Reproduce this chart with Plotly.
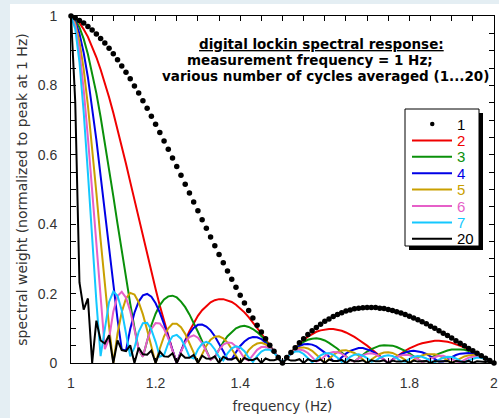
import plotly.graph_objects as go

# frequency grid (Hz)
freq = [1.00, 1.01, 1.02, 1.03, 1.04, 1.05, 1.06, 1.07, 1.08, 1.09,
        1.10, 1.11, 1.12, 1.13, 1.14, 1.15, 1.16, 1.17, 1.18, 1.19,
        1.20, 1.21, 1.22, 1.23, 1.24, 1.25, 1.26, 1.27, 1.28, 1.29,
        1.30, 1.31, 1.32, 1.33, 1.34, 1.35, 1.36, 1.37, 1.38, 1.39,
        1.40, 1.41, 1.42, 1.43, 1.44, 1.45, 1.46, 1.47, 1.48, 1.49,
        1.50, 1.51, 1.52, 1.53, 1.54, 1.55, 1.56, 1.57, 1.58, 1.59,
        1.60, 1.61, 1.62, 1.63, 1.64, 1.65, 1.66, 1.67, 1.68, 1.69,
        1.70, 1.71, 1.72, 1.73, 1.74, 1.75, 1.76, 1.77, 1.78, 1.79,
        1.80, 1.81, 1.82, 1.83, 1.84, 1.85, 1.86, 1.87, 1.88, 1.89,
        1.90, 1.91, 1.92, 1.93, 1.94, 1.95, 1.96, 1.97, 1.98, 1.99,
        2.00]

resp_1 = [1.000, 0.995, 0.987, 0.980, 0.970, 0.960, 0.948, 0.935, 0.922, 0.907,
          0.891, 0.874, 0.856, 0.838, 0.819, 0.798, 0.778, 0.756, 0.734, 0.711,
          0.688, 0.664, 0.640, 0.616, 0.591, 0.566, 0.541, 0.515, 0.490, 0.464,
          0.439, 0.413, 0.388, 0.363, 0.338, 0.313, 0.289, 0.265, 0.241, 0.218,
          0.195, 0.173, 0.151, 0.130, 0.109, 0.089, 0.070, 0.051, 0.034, 0.016,
          0.000, 0.016, 0.030, 0.044, 0.058, 0.070, 0.082, 0.093, 0.102, 0.112,
          0.120, 0.127, 0.134, 0.140, 0.145, 0.150, 0.153, 0.156, 0.158, 0.159,
          0.160, 0.160, 0.160, 0.158, 0.157, 0.154, 0.151, 0.148, 0.144, 0.140,
          0.135, 0.130, 0.125, 0.119, 0.113, 0.106, 0.100, 0.093, 0.086, 0.079,
          0.072, 0.064, 0.057, 0.050, 0.042, 0.035, 0.028, 0.021, 0.014, 0.007,
          0.000]

resp_2 = [1.000, 0.992, 0.980, 0.962, 0.940, 0.913, 0.881, 0.846, 0.808, 0.766,
          0.721, 0.674, 0.624, 0.574, 0.522, 0.469, 0.417, 0.364, 0.313, 0.262,
          0.213, 0.165, 0.120, 0.077, 0.037, 0.000, 0.034, 0.065, 0.092, 0.115,
          0.136, 0.152, 0.165, 0.175, 0.181, 0.184, 0.184, 0.181, 0.176, 0.168,
          0.158, 0.146, 0.132, 0.117, 0.101, 0.085, 0.068, 0.050, 0.033, 0.016,
          0.000, 0.016, 0.030, 0.044, 0.056, 0.067, 0.076, 0.084, 0.090, 0.094,
          0.097, 0.098, 0.098, 0.096, 0.093, 0.088, 0.082, 0.075, 0.067, 0.059,
          0.050, 0.040, 0.030, 0.020, 0.010, 0.000, 0.010, 0.019, 0.027, 0.035,
          0.042, 0.048, 0.053, 0.057, 0.060, 0.062, 0.064, 0.064, 0.063, 0.061,
          0.058, 0.054, 0.050, 0.045, 0.039, 0.033, 0.027, 0.020, 0.014, 0.007,
          0.000]

resp_3 = [1.000, 0.989, 0.967, 0.934, 0.890, 0.837, 0.777, 0.709, 0.636, 0.560,
          0.481, 0.401, 0.321, 0.244, 0.171, 0.102, 0.038, 0.018, 0.067, 0.109,
          0.142, 0.167, 0.183, 0.192, 0.194, 0.189, 0.177, 0.161, 0.140, 0.116,
          0.090, 0.063, 0.036, 0.009, 0.017, 0.040, 0.060, 0.077, 0.090, 0.100,
          0.105, 0.107, 0.104, 0.098, 0.089, 0.078, 0.064, 0.049, 0.033, 0.016,
          0.000, 0.016, 0.030, 0.042, 0.053, 0.061, 0.067, 0.070, 0.071, 0.069,
          0.065, 0.058, 0.050, 0.041, 0.030, 0.019, 0.008, 0.004, 0.014, 0.024,
          0.033, 0.040, 0.046, 0.050, 0.051, 0.051, 0.050, 0.046, 0.041, 0.035,
          0.028, 0.020, 0.011, 0.003, 0.006, 0.014, 0.021, 0.027, 0.032, 0.036,
          0.039, 0.040, 0.039, 0.038, 0.035, 0.031, 0.026, 0.020, 0.013, 0.007,
          0.000]

resp_4 = [1.000, 0.985, 0.949, 0.894, 0.823, 0.738, 0.643, 0.539, 0.433, 0.326,
          0.223, 0.126, 0.039, 0.036, 0.098, 0.145, 0.177, 0.195, 0.199, 0.191,
          0.172, 0.145, 0.112, 0.075, 0.037, 0.000, 0.034, 0.063, 0.085, 0.101,
          0.110, 0.111, 0.105, 0.094, 0.077, 0.057, 0.034, 0.011, 0.011, 0.031,
          0.049, 0.062, 0.071, 0.075, 0.074, 0.069, 0.059, 0.047, 0.032, 0.016,
          0.000, 0.015, 0.029, 0.041, 0.049, 0.054, 0.055, 0.053, 0.048, 0.040,
          0.030, 0.018, 0.006, 0.006, 0.017, 0.027, 0.035, 0.040, 0.043, 0.043,
          0.040, 0.035, 0.028, 0.019, 0.010, 0.000, 0.009, 0.018, 0.025, 0.030,
          0.034, 0.035, 0.034, 0.031, 0.026, 0.019, 0.012, 0.004, 0.004, 0.011,
          0.018, 0.023, 0.027, 0.029, 0.029, 0.027, 0.024, 0.019, 0.013, 0.007,
          0.000]

resp_5 = [1.000, 0.979, 0.926, 0.846, 0.742, 0.621, 0.490, 0.355, 0.225, 0.105,
          0.000, 0.085, 0.147, 0.186, 0.202, 0.197, 0.175, 0.140, 0.095, 0.047,
          0.000, 0.042, 0.077, 0.100, 0.113, 0.113, 0.103, 0.084, 0.059, 0.030,
          0.000, 0.027, 0.050, 0.067, 0.076, 0.077, 0.071, 0.059, 0.041, 0.021,
          0.000, 0.020, 0.037, 0.049, 0.056, 0.058, 0.054, 0.044, 0.031, 0.016,
          0.000, 0.015, 0.029, 0.038, 0.044, 0.045, 0.042, 0.035, 0.025, 0.013,
          0.000, 0.012, 0.023, 0.031, 0.036, 0.037, 0.034, 0.029, 0.021, 0.011,
          0.000, 0.010, 0.019, 0.026, 0.030, 0.031, 0.029, 0.024, 0.017, 0.009,
          0.000, 0.009, 0.016, 0.022, 0.025, 0.026, 0.025, 0.021, 0.015, 0.008,
          0.000, 0.007, 0.014, 0.019, 0.022, 0.023, 0.021, 0.018, 0.013, 0.007,
          0.000]

resp_6 = [1.000, 0.972, 0.899, 0.788, 0.649, 0.492, 0.331, 0.176, 0.040, 0.070,
          0.148, 0.193, 0.205, 0.188, 0.150, 0.097, 0.038, 0.018, 0.065, 0.098,
          0.115, 0.114, 0.098, 0.071, 0.036, 0.000, 0.033, 0.059, 0.075, 0.080,
          0.073, 0.057, 0.034, 0.009, 0.017, 0.038, 0.053, 0.059, 0.058, 0.048,
          0.032, 0.013, 0.007, 0.024, 0.038, 0.046, 0.047, 0.041, 0.031, 0.016,
          0.000, 0.015, 0.028, 0.036, 0.039, 0.036, 0.029, 0.017, 0.004, 0.009,
          0.020, 0.028, 0.032, 0.031, 0.027, 0.018, 0.008, 0.004, 0.014, 0.022,
          0.027, 0.028, 0.025, 0.018, 0.010, 0.000, 0.009, 0.017, 0.022, 0.024,
          0.023, 0.018, 0.011, 0.003, 0.006, 0.013, 0.018, 0.021, 0.021, 0.017,
          0.012, 0.005, 0.002, 0.009, 0.015, 0.018, 0.019, 0.017, 0.012, 0.007,
          0.000]

resp_7 = [1.000, 0.963, 0.867, 0.723, 0.547, 0.359, 0.177, 0.020, 0.101, 0.176,
          0.206, 0.194, 0.151, 0.088, 0.019, 0.044, 0.090, 0.115, 0.116, 0.096,
          0.061, 0.018, 0.023, 0.057, 0.077, 0.081, 0.070, 0.047, 0.018, 0.013,
          0.039, 0.056, 0.061, 0.055, 0.039, 0.017, 0.007, 0.028, 0.042, 0.048,
          0.045, 0.034, 0.016, 0.003, 0.020, 0.033, 0.039, 0.038, 0.029, 0.016,
          0.000, 0.015, 0.027, 0.033, 0.033, 0.026, 0.015, 0.002, 0.011, 0.022,
          0.028, 0.028, 0.024, 0.015, 0.003, 0.008, 0.018, 0.024, 0.025, 0.021,
          0.014, 0.004, 0.006, 0.015, 0.020, 0.022, 0.020, 0.014, 0.005, 0.004,
          0.012, 0.018, 0.020, 0.018, 0.013, 0.006, 0.002, 0.010, 0.015, 0.018,
          0.017, 0.013, 0.006, 0.001, 0.008, 0.013, 0.016, 0.015, 0.012, 0.007,
          0.000]

resp_20 = [1.000, 0.753, 0.232, 0.154, 0.186, 0.000, 0.122, 0.065, 0.056, 0.080,
           0.000, 0.065, 0.037, 0.034, 0.051, 0.000, 0.044, 0.025, 0.024, 0.036,
           0.000, 0.033, 0.019, 0.018, 0.028, 0.000, 0.026, 0.015, 0.015, 0.023,
           0.000, 0.021, 0.013, 0.012, 0.019, 0.000, 0.018, 0.011, 0.010, 0.016,
           0.000, 0.015, 0.009, 0.009, 0.014, 0.000, 0.013, 0.008, 0.008, 0.012,
           0.000, 0.012, 0.007, 0.007, 0.011, 0.000, 0.011, 0.006, 0.006, 0.010,
           0.000, 0.010, 0.006, 0.006, 0.009, 0.000, 0.009, 0.005, 0.005, 0.008,
           0.000, 0.008, 0.005, 0.005, 0.008, 0.000, 0.007, 0.004, 0.004, 0.007,
           0.000, 0.007, 0.004, 0.004, 0.006, 0.000, 0.006, 0.004, 0.004, 0.006,
           0.000, 0.006, 0.004, 0.003, 0.006, 0.000, 0.005, 0.003, 0.003, 0.005,
           0.000]

line_series = [
    ("2", resp_2, "#f00000"),
    ("3", resp_3, "#0a900a"),
    ("4", resp_4, "#0000e6"),
    ("5", resp_5, "#c9a000"),
    ("6", resp_6, "#e65fc8"),
    ("7", resp_7, "#14c8ff"),
    ("20", resp_20, "#000000"),
]

SANS = "Liberation Sans, Arial, sans-serif"
WIDE = "DejaVu Sans, Verdana, sans-serif"

fig = go.Figure()
for name, vals, col in line_series:
    fig.add_trace(go.Scatter(
        x=freq, y=vals, mode="lines", name=name,
        line=dict(color=col, width=2), showlegend=False,
    ))
fig.add_trace(go.Scatter(
    x=freq, y=resp_1, mode="markers", name="1",
    marker=dict(size=5.5, color="black"),
    cliponaxis=False, showlegend=False,
))

# pixel -> paper conversion for decorations
L, T, W, H = 71, 16, 423, 347


def px(xp):
    return (xp - L) / W


def py(yp):
    return (T + H - yp) / H


shapes = [
    # white page area (light blue frame visible at top/left)
    dict(type="rect", xref="paper", yref="paper", x0=px(10), x1=px(520),
         y0=py(4), y1=py(440), fillcolor="white", line=dict(width=0), layer="below"),
]
annotations = []

# legend box with drop shadow
LX0, LX1, LY0, LY1 = 405, 479, 109, 246
shapes.append(dict(type="rect", xref="paper", yref="paper",
                   x0=px(LX0 + 4), x1=px(LX1 + 4), y0=py(LY0 + 4), y1=py(LY1 + 4),
                   fillcolor="black", line=dict(width=0), layer="above"))
shapes.append(dict(type="rect", xref="paper", yref="paper",
                   x0=px(LX0), x1=px(LX1), y0=py(LY0), y1=py(LY1),
                   fillcolor="white", line=dict(color="black", width=1), layer="above"))
legend_items = [("1", "#000000", "dot")] + [(n, c, "line") for n, _, c in line_series]
for i, (name, col, kind) in enumerate(legend_items):
    yc = 124 + 16.4 * i
    if kind == "dot":
        shapes.append(dict(type="circle", xref="paper", yref="paper",
                           x0=px(430), x1=px(434.5), y0=py(yc - 2.2), y1=py(yc + 2.2),
                           fillcolor="black", line=dict(width=0), layer="above"))
    else:
        shapes.append(dict(type="line", xref="paper", yref="paper",
                           x0=px(412), x1=px(452), y0=py(yc), y1=py(yc),
                           line=dict(color=col, width=2), layer="above"))
    annotations.append(dict(text=name, xref="paper", yref="paper",
                            x=px(455), y=py(yc), xanchor="left", yanchor="middle",
                            showarrow=False,
                            font=dict(family=SANS, size=15, color=col)))

title_lines = [
    ("<b><u>digital lockin spectral response:</u></b>", 321, 44),
    ("<b>measurement frequency = 1 Hz;</b>", 310, 60),
    ("<b>various number of cycles averaged (1...20)</b>", 325, 76),
]
for t, xc, yc in title_lines:
    annotations.append(dict(text=t, xref="paper", yref="paper", x=px(xc), y=py(yc),
                            xanchor="center", yanchor="middle", showarrow=False,
                            font=dict(family=WIDE, size=13.5, color="black")))

axis_common = dict(
    showline=True, linecolor="black", linewidth=1, mirror="allticks",
    ticks="inside", ticklen=5, tickcolor="black", tickwidth=1,
    showgrid=False, zeroline=False, automargin=False,
    tickfont=dict(family=SANS, size=14, color="#333333"),
    minor=dict(dtick=0.05, ticks="inside", ticklen=5, tickcolor="black", showgrid=False),
)

fig.update_layout(
    width=499, height=418,
    margin=dict(l=L, r=499 - L - W, t=T, b=418 - T - H, autoexpand=False),
    paper_bgcolor="#e4eef3", plot_bgcolor="white",
    font=dict(family=SANS, size=13, color="#333333"),
    shapes=shapes, annotations=annotations,
    showlegend=False,
    xaxis=dict(range=[1, 2], tick0=1, dtick=0.2, ticklabelstandoff=7,
               title=dict(text="frequency (Hz)", standoff=11,
                          font=dict(family=WIDE, size=13.5, color="#333333")),
               **axis_common),
    yaxis=dict(range=[0, 1], tick0=0, dtick=0.2, ticklabelstandoff=10,
               title=dict(text="spectral weight (normalized to peak at 1 Hz)", standoff=6,
                          font=dict(family=WIDE, size=14, color="#333333")),
               **axis_common),
)

# the page's default body margin would offset the 499x418 figure; remove it
fig.write_html("out.html", config={"displayModeBar": False},
               post_script="document.body.style.margin='0';")
